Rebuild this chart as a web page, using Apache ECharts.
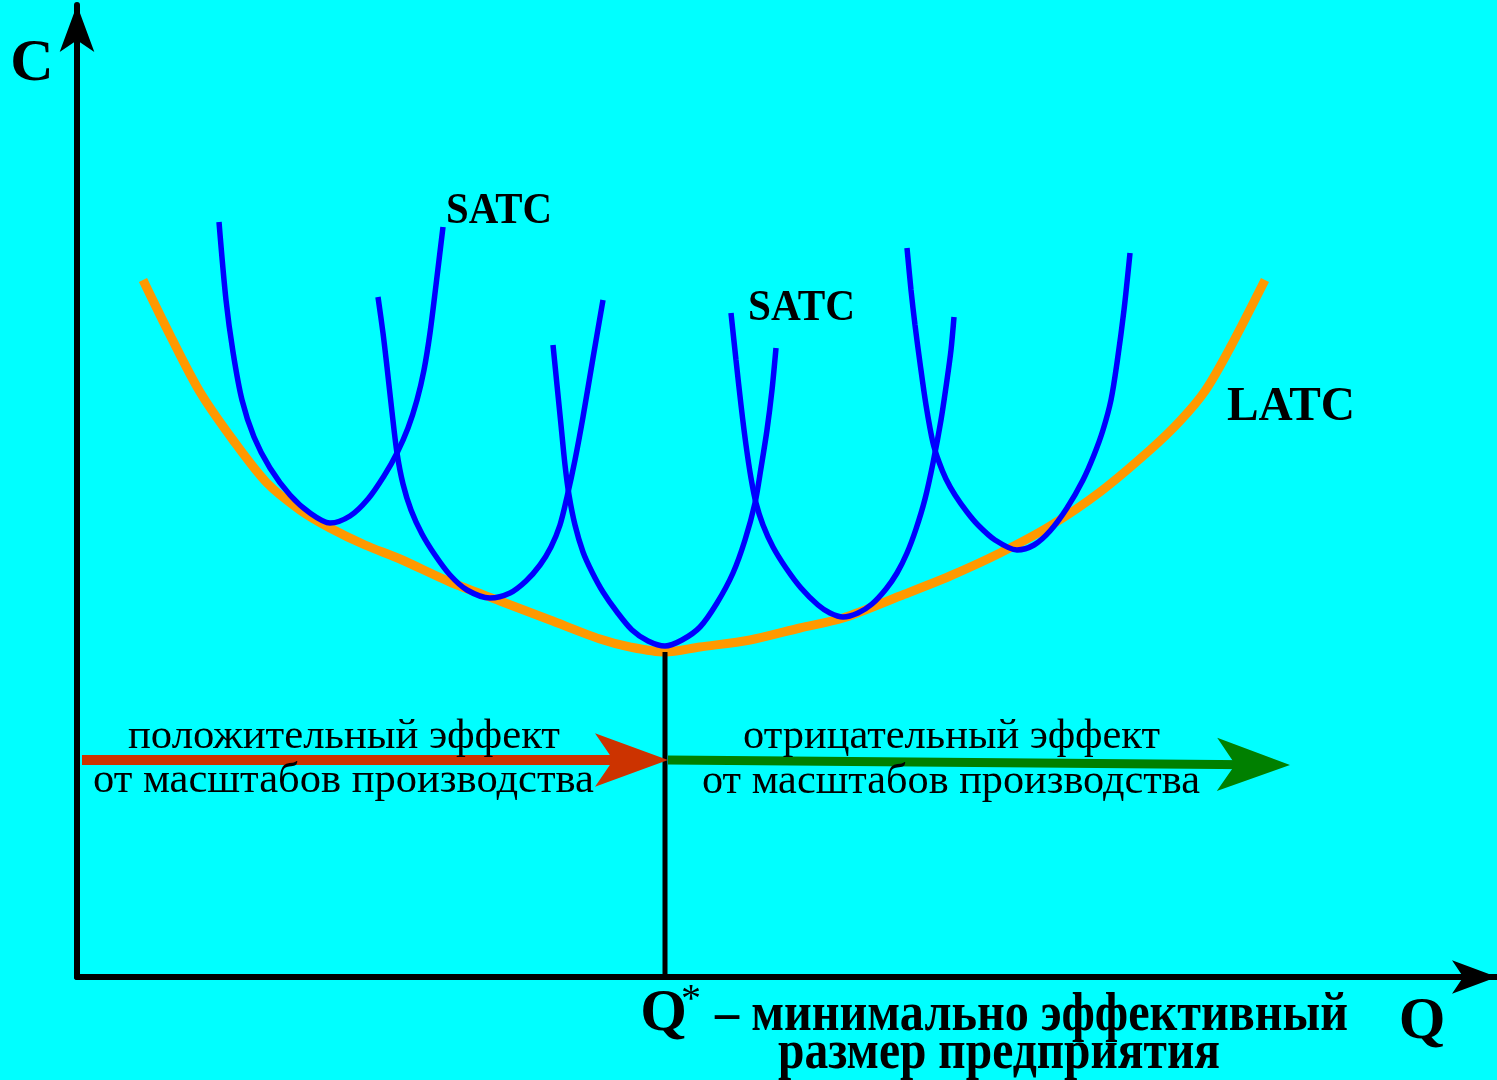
<!DOCTYPE html>
<html><head><meta charset="utf-8">
<script src="https://cdn.jsdelivr.net/npm/echarts@6/dist/echarts.min.js"></script>
<style>html,body{margin:0;padding:0;background:#00ffff}#c{width:1497px;height:1080px}</style>
</head><body><div id="c"></div>
<script>
// ---- data (Q units horizontally, C units vertically) ----
const latc = [[6.6,69.7],[9.3,64.2],[12.3,58.5],[15.6,53.7],[19.0,49.4],[22.3,46.7],[25.3,44.9],[28.8,43.2],[32.3,41.8],[37.3,39.5],[42.3,37.6],[47.3,35.7],[52.3,33.8],[55.3,33.0],[58.8,32.5],[62.3,33.0],[67.3,33.7],[72.3,34.9],[76.6,35.9],[82.3,38.1],[87.3,40.1],[92.3,42.4],[97.3,45.1],[102.3,48.5],[107.3,52.7],[110.3,55.6],[112.8,58.6],[115.3,62.9],[118.8,69.7]];
const satc1 = [[14.2,75.5],[14.9,67.7],[15.6,62.5],[16.5,57.7],[17.7,54.0],[19.3,50.9],[21.3,48.2],[23.3,46.4],[25.3,45.4],[27.3,46.1],[29.1,47.8],[30.7,50.1],[32.0,52.4],[33.1,54.9],[34.0,57.7],[34.7,60.7],[35.3,64.4],[35.9,69.2],[36.6,75.0]];
const satc2 = [[30.1,68.0],[30.6,64.4],[31.0,61.0],[31.5,56.5],[32.0,52.4],[32.6,49.3],[33.4,46.7],[34.5,44.3],[35.8,42.2],[37.3,40.2],[39.0,38.7],[41.3,37.9],[43.3,38.4],[44.9,39.6],[46.3,41.2],[47.4,43.0],[48.3,45.2],[49.0,48.0],[49.8,51.7],[50.6,56.0],[51.6,61.9],[52.6,67.7]];
const satc3 = [[47.6,63.2],[48.0,59.2],[48.4,55.2],[48.8,51.2],[49.2,48.2],[49.8,45.2],[50.6,42.5],[51.5,40.5],[52.6,38.5],[54.0,36.5],[55.5,34.7],[57.1,33.6],[58.8,33.1],[60.5,33.7],[62.3,35.0],[64.0,37.4],[65.6,40.4],[66.8,43.7],[67.8,47.4],[68.4,50.9],[69.0,54.7],[69.5,58.7],[69.9,62.9]];
const satc4 = [[65.4,66.4],[65.9,61.7],[66.4,57.2],[66.9,53.2],[67.4,49.9],[67.9,47.4],[68.6,45.2],[69.6,43.0],[70.9,40.9],[72.4,38.9],[74.1,37.2],[75.3,36.4],[76.6,36.0],[78.1,36.4],[79.5,37.3],[80.9,38.8],[82.0,40.4],[83.0,42.4],[83.9,44.8],[84.8,47.8],[85.6,51.4],[86.4,55.7],[87.0,59.7],[87.4,62.7],[87.7,66.0]];
const satc5 = [[83.0,72.9],[83.4,68.7],[83.8,65.2],[84.3,61.4],[84.9,57.2],[85.6,53.4],[86.2,51.5],[86.9,49.8],[87.8,48.2],[89.0,46.5],[90.1,45.2],[91.8,43.7],[94.0,42.7],[95.7,43.2],[97.3,44.6],[99.0,46.9],[100.6,49.7],[101.7,52.2],[102.6,54.7],[103.4,57.7],[104.0,61.4],[104.7,66.7],[105.3,72.4]];
const qStar = [[58.8,32.5],[58.8,0]];
const positiveShaft = [[0.5,21.7],[55.1,21.7]];
const positiveHead = [[55.1,21.7],[59.1,21.7]];
const negativeShaft = [[59.1,21.7],[117.3,21.23]];
const negativeHead = [[117.3,21.23],[121.3,21.2]];
const axisNames = ['C','Q'];
const curveNames = ['SATC','SATC','LATC'];
const effectTexts = ['положительный эффект','от масштабов производства','отрицательный эффект','от масштабов производства'];
const qStarTexts = ['Q','*','– минимально эффективный','размер предприятия'];

const chart = echarts.init(document.getElementById('c'), null, {renderer:'canvas'});
const axisBase = {
  type:'value', axisTick:{show:false}, axisLabel:{show:false}, splitLine:{show:false}
};
const satcStyle = {color:'#0000FF', width:5.5};
function satcSeries(d){
  return {type:'line', data:d, smooth:0.3, symbol:'none', lineStyle:satcStyle, z:3, silent:true};
}
function shaft(d, color, w){
  return {type:'line', data:d, symbol:'none', lineStyle:{color:color, width:w}, z:5, silent:true};
}
function head(d, color){
  return {type:'lines', coordinateSystem:'cartesian2d', z:6, silent:true,
    symbol:['none','arrow'], symbolSize:[[1,1],[40,73]],
    lineStyle:{color:color, width:0, opacity:1, curveness:0},
    data:[{coords:d}]};
}
chart.setOption({
  animation:false,
  backgroundColor:'#00FFFF',
  grid:{left:77, right:0, top:5, bottom:103, containLabel:false},
  xAxis:Object.assign({}, axisBase, {min:0, max:142,
    axisLine:{show:true, onZero:false, symbol:['none','arrow'], symbolSize:[25,45], lineStyle:{color:'#000', width:6}}}),
  yAxis:Object.assign({}, axisBase, {min:0, max:97.2,
    axisLine:{show:true, onZero:false, symbol:['none','arrow'], symbolSize:[26,47], lineStyle:{color:'#000', width:6}}}),
  series:[
    {type:'line', data:latc, smooth:0.3, symbol:'none', lineStyle:{color:'#FF9900', width:9}, z:2, silent:true},
    satcSeries(satc1), satcSeries(satc2), satcSeries(satc3), satcSeries(satc4), satcSeries(satc5),
    {type:'line', data:qStar, symbol:'none', lineStyle:{color:'#000', width:5}, z:4, silent:true},
    shaft(positiveShaft, '#CC3300', 10), head(positiveHead, '#CC3300'),
    shaft(negativeShaft, '#008000', 9), head(negativeHead, '#008000')
  ]
});

const FAMILY = '"Liberation Serif", "Times New Roman", serif';
const labelSpecs = [
  {t:axisNames[0], q:-4.5, c:89.5, size:60, bold:true},
  {t:axisNames[1], q:134.5, c:-6.3, size:60, bold:true},
  {t:curveNames[0], q:42.2, c:75.2, size:45, bold:true, w:106},
  {t:curveNames[1], q:72.45, c:65.5, size:45, bold:true, w:107},
  {t:curveNames[2], q:121.4, c:55.5, size:48, bold:true, w:128},
  {t:effectTexts[0], q:26.7, c:22.7, size:43, w:432},
  {t:effectTexts[1], q:26.65, c:18.3, size:43, w:501},
  {t:effectTexts[2], q:87.45, c:22.7, size:43, w:417},
  {t:effectTexts[3], q:87.4, c:18.2, size:43, w:498},
  {t:qStarTexts[0], q:58.65, c:-5.5, size:60, bold:true},
  {t:qStarTexts[1], q:61.4, c:-3.5, size:40},
  {t:qStarTexts[2], q:63.8, c:-5.5, size:55, bold:true, w:633, align:'left'},
  {t:qStarTexts[3], q:92.2, c:-9.3, size:55, bold:true, w:442}
];
const ctx = document.createElement('canvas').getContext('2d');
const graphics = labelSpecs.map(function(s){
  const font = (s.bold ? 'bold ' : '') + s.size + 'px ' + FAMILY;
  ctx.font = font;
  const mw = ctx.measureText(s.t).width;
  const sx = s.w ? s.w / mw : 1;
  const p = chart.convertToPixel({gridIndex:0}, [s.q, s.c]);
  const al = s.align || 'center';
  return {type:'text', x:p[0], y:p[1] - 0.30 * s.size, scaleX:sx, silent:true, z:100,
    style:{text:s.t, font:font, fill:'#000', textAlign:al, align:al, textVerticalAlign:'middle', verticalAlign:'middle'}};
});
chart.setOption({graphic:graphics});
</script>
</body></html>
